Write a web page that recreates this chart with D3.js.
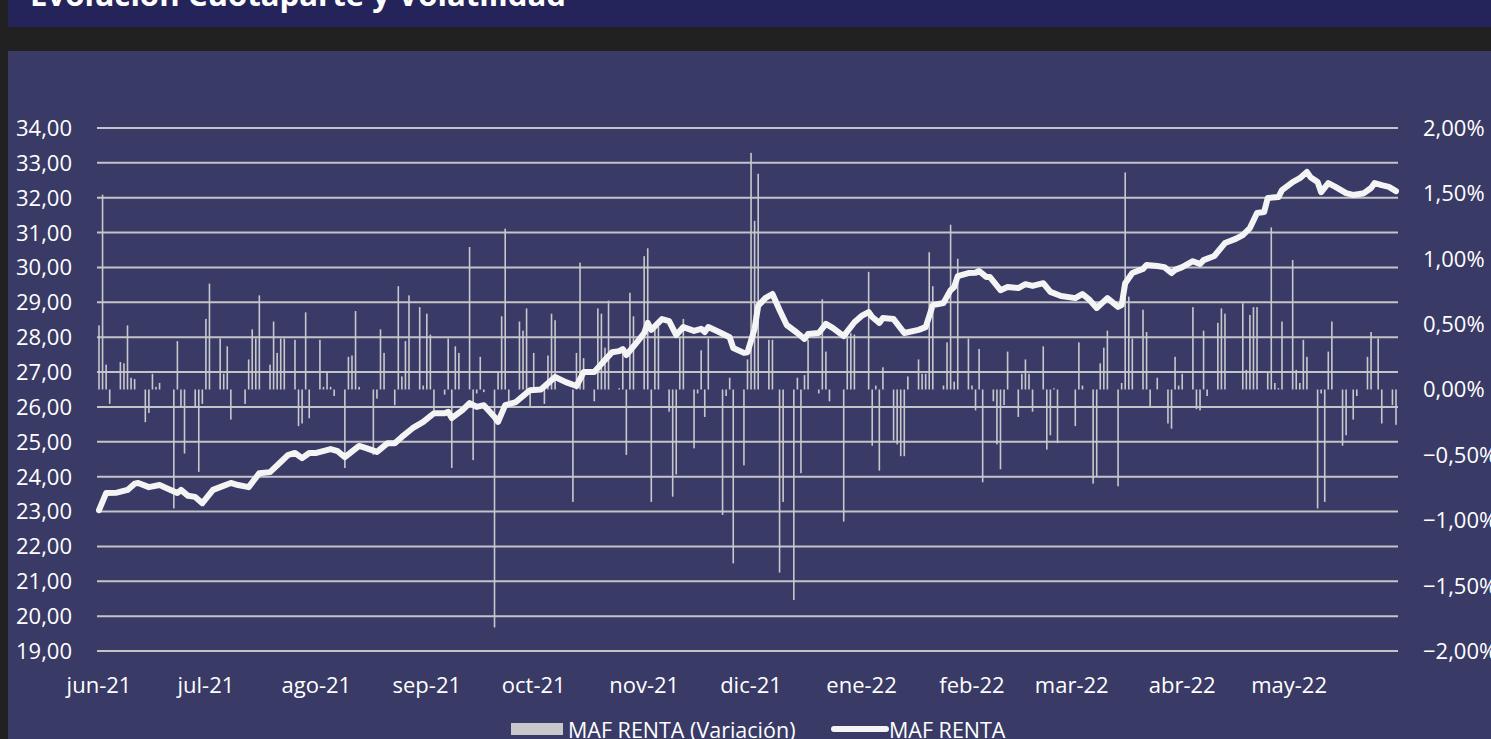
<!DOCTYPE html>
<html>
<head>
<meta charset="utf-8">
<script src="https://cdn.jsdelivr.net/npm/d3@7"></script>
<style>
  html, body { margin: 0; padding: 0; background: #393a66; }
  svg { display: block; }
  text { font-family: "Open Sans", "Liberation Sans", sans-serif; fill: #ffffff; }
</style>
</head>
<body>
<div id="chart"></div>
<script>
"use strict"

// titles / labels
const chartTitle = "Evolución Cuotaparte y Volatilidad";
const monthLabels = ["jun-21", "jul-21", "ago-21", "sep-21", "oct-21", "nov-21",
  "dic-21", "ene-22", "feb-22", "mar-22", "abr-22", "may-22"];
const leftTicks = [19, 20, 21, 22, 23, 24, 25, 26, 27, 28, 29, 30, 31, 32, 33, 34];
const rightTicks = [-2, -1.5, -1, -0.5, 0, 0.5, 1, 1.5, 2];
const seriesNames = ["MAF RENTA (Variación)", "MAF RENTA"];

// days counted from 1 jun 2021
const lineDays = [0, 2, 5, 8, 10, 11, 14, 17, 19, 22, 23, 25, 27, 29, 32, 34, 37, 39, 42, 45,
  48, 51, 53, 55, 57, 59, 61, 65, 67, 69, 73, 75, 78, 81, 83, 85, 88, 91, 94, 97,
  98, 99, 102, 104, 106, 108, 111, 112, 114, 117, 120, 121, 124, 128, 131, 134, 136, 139, 142, 144,
  146, 147, 148, 151, 153, 154, 155, 158, 160, 162, 164, 167, 169, 170, 171, 174, 177, 178, 181, 182,
  183, 184, 185, 187, 189, 191, 193, 196, 198, 199, 202, 204, 206, 209, 212, 214, 216, 217, 219, 220,
  223, 226, 230, 232, 234, 237, 239, 240, 241, 244, 246, 247, 249, 250, 253, 255, 258, 260, 262, 265,
  267, 270, 274, 276, 278, 280, 283, 286, 287, 288, 290, 293, 294, 297, 299, 301, 302, 304, 307, 309,
  310, 313, 316, 319, 321, 323, 325, 327, 328, 331, 332, 335, 337, 339, 340, 342, 343, 345, 347, 350,
  352, 355, 357, 358, 360, 362, 364];
const lineValues = [23.04, 23.53, 23.54, 23.62, 23.80, 23.82, 23.70, 23.76, 23.67, 23.53, 23.62, 23.45, 23.42, 23.24, 23.62, 23.70, 23.82, 23.76, 23.70, 24.10,
  24.13, 24.42, 24.62, 24.68, 24.53, 24.68, 24.68, 24.79, 24.73, 24.56, 24.88, 24.82, 24.71, 24.96, 24.96, 25.14, 25.39, 25.57, 25.82, 25.82,
  25.86, 25.68, 25.91, 26.11, 26.00, 26.05, 25.71, 25.57, 26.05, 26.14, 26.40, 26.48, 26.50, 26.86, 26.71, 26.60, 27.00, 27.00, 27.35, 27.57,
  27.60, 27.66, 27.49, 27.86, 28.12, 28.41, 28.21, 28.52, 28.46, 28.06, 28.29, 28.18, 28.24, 28.15, 28.29, 28.15, 28.00, 27.69, 27.55, 27.57,
  27.90, 28.25, 28.90, 29.12, 29.24, 28.78, 28.35, 28.12, 27.95, 28.09, 28.12, 28.38, 28.26, 28.03, 28.43, 28.61, 28.72, 28.58, 28.41, 28.55,
  28.52, 28.12, 28.21, 28.29, 28.92, 28.98, 29.35, 29.44, 29.75, 29.84, 29.85, 29.90, 29.73, 29.73, 29.35, 29.44, 29.41, 29.52, 29.47, 29.55,
  29.30, 29.18, 29.12, 29.24, 29.07, 28.84, 29.12, 28.87, 28.92, 29.55, 29.84, 29.96, 30.07, 30.04, 30.01, 29.84, 29.93, 30.01, 30.18, 30.10,
  30.21, 30.33, 30.70, 30.82, 30.93, 31.13, 31.56, 31.59, 31.99, 32.02, 32.22, 32.45, 32.56, 32.74, 32.59, 32.45, 32.16, 32.42, 32.31, 32.13,
  32.08, 32.13, 32.28, 32.42, 32.36, 32.31, 32.19];

// daily variation, in %
const barDays = [0, 1, 2, 3, 6, 7, 8, 9, 10, 13, 14, 15, 16, 17, 21, 22, 23, 24, 27, 28,
  29, 30, 31, 34, 35, 36, 37, 41, 42, 43, 44, 45, 48, 49, 50, 51, 52, 55, 56, 57,
  58, 59, 62, 63, 64, 65, 66, 69, 70, 71, 72, 73, 77, 78, 79, 80, 83, 84, 85, 86,
  87, 90, 91, 92, 93, 94, 97, 98, 99, 100, 101, 104, 105, 106, 107, 108, 111, 112, 113, 114,
  115, 118, 119, 120, 121, 122, 125, 126, 127, 128, 133, 134, 135, 136, 139, 140, 141, 142, 143, 146,
  147, 148, 149, 150, 153, 154, 155, 156, 157, 160, 161, 162, 163, 164, 167, 168, 169, 170, 171, 175,
  176, 177, 178, 181, 182, 183, 184, 185, 188, 189, 191, 192, 195, 196, 197, 198, 199, 202, 203, 204,
  205, 209, 210, 211, 212, 216, 217, 218, 219, 220, 223, 224, 225, 226, 227, 230, 231, 232, 233, 234,
  237, 238, 239, 240, 241, 244, 245, 246, 247, 248, 251, 252, 253, 254, 255, 258, 259, 260, 261, 262,
  265, 266, 267, 268, 269, 274, 275, 276, 279, 280, 281, 282, 283, 286, 287, 288, 289, 290, 293, 294,
  295, 297, 300, 301, 302, 303, 304, 307, 308, 309, 310, 311, 314, 315, 316, 321, 322, 323, 324, 325,
  328, 329, 330, 331, 332, 335, 336, 337, 338, 339, 342, 343, 344, 345, 346, 349, 350, 352, 353, 356,
  357, 359, 360, 363, 364];
const barValues = [0.49, 1.49, 0.19, -0.11, 0.21, 0.20, 0.49, 0.09, 0.08, -0.25, -0.18, 0.12, 0.02, 0.05, -0.91, 0.37, -0.13, -0.49, -0.13, -0.63,
  -0.11, 0.54, 0.81, 0.39, 0.12, 0.33, -0.23, -0.11, 0.23, 0.46, 0.39, 0.72, 0.19, 0.52, 0.28, 0.39, 0.39, 0.38, -0.28, -0.26,
  0.59, -0.22, 0.38, 0.02, 0.13, 0.02, -0.05, -0.60, 0.25, 0.26, 0.60, 0.02, -0.50, -0.07, 0.46, 0.28, -0.12, 0.79, 0.10, 0.37,
  0.72, 0.63, 0.03, 0.58, 0.42, -0.16, -0.04, 0.39, -0.60, 0.33, 0.28, 1.09, -0.54, -0.03, 0.25, -0.02, -1.82, 0.13, 0.56, 1.23,
  -0.09, 0.52, 0.45, 0.62, -0.13, 0.28, -0.11, 0.26, 0.58, 0.53, -0.86, 0.28, 0.97, 0.24, -0.09, 0.62, 0.58, 0.32, 0.68, 0.01,
  0.32, -0.50, 0.74, 0.56, 1.02, 1.08, -0.86, 0.48, 0.48, -0.17, -0.82, -0.65, 0.40, 0.54, -0.45, -0.03, 0.30, -0.21, 0.39, -0.96,
  -0.05, 0.09, -1.33, -0.58, 0.23, 1.81, 1.29, 1.65, 0.38, 0.38, -1.40, -0.86, -1.61, 0.09, -0.64, 0.11, 0.38, -0.03, 0.69, 0.29,
  -0.09, -1.01, 0.42, 0.43, 0.42, 0.90, -0.43, 0.03, -0.62, 0.17, -0.39, -0.42, -0.51, -0.51, 0.10, 0.23, 0.12, 0.12, 1.05, 0.79,
  0.03, 0.36, 1.26, 0.06, 1.00, 0.39, 0.03, -0.16, 0.31, -0.71, -0.09, -0.42, -0.61, -0.12, 0.29, -0.21, 0.12, 0.23, 0.12, -0.17,
  0.33, -0.46, -0.35, 0.01, -0.41, -0.28, 0.36, 0.03, -0.72, -0.67, 0.20, 0.32, 0.45, -0.74, 0.05, 1.66, 0.71, 0.39, 0.61, 0.44,
  -0.13, 0.09, -0.26, -0.30, 0.25, 0.03, 0.12, 0.63, -0.15, -0.16, 0.45, -0.05, 0.51, 0.62, 0.58, 0.66, 0.15, 0.57, 0.63, 0.63,
  0.13, 1.24, 0.05, 0.01, 0.52, 0.99, 0.15, 0.05, 0.38, 0.25, -0.91, -0.03, -0.86, 0.29, 0.52, -0.43, -0.35, -0.23, -0.05, 0.25,
  0.44, 0.39, -0.26, -0.12, -0.27];

const width = 1491, height = 739;
const day = d => new Date(Date.UTC(2021, 5, 1 + d));

const svg = d3.select("#chart")
  .append("svg")
    .attr("width", width)
    .attr("height", height);

// page bands
svg.append("rect").attr("width", width).attr("height", height).attr("fill", "#393a66");
svg.append("rect").attr("x", 0).attr("y", 0).attr("width", width).attr("height", 51).attr("fill", "#212121");
svg.append("rect").attr("x", 8).attr("y", 0).attr("width", width - 8).attr("height", 27).attr("fill", "#24245a");
svg.append("rect").attr("x", 0).attr("y", 0).attr("width", 8).attr("height", height).attr("fill", "#212121");

svg.append("text")
  .attr("x", 30).attr("y", 6)
  .attr("textLength", 536).attr("lengthAdjust", "spacingAndGlyphs")
  .style("font-size", "30px").style("font-weight", "bold")
  .text(chartTitle);

// scales
const x = d3.scaleUtc()
  .domain([day(0), day(364)])
  .range([99, 1396]);
const yL = d3.scaleLinear().domain([19, 34]).range([651, 128]);
const yR = d3.scaleLinear().domain([-2, 2]).range([651, 128]);
const gridX0 = 97, gridX1 = 1398;
const fmt = d3.formatLocale({decimal: ",", thousands: ".", grouping: [3], currency: ["", ""]});

// gridlines
svg.append("g")
  .selectAll("line")
  .data(leftTicks)
  .join("line")
    .attr("x1", gridX0).attr("x2", gridX1)
    .attr("y1", d => yL(d)).attr("y2", d => yL(d))
    .attr("stroke", "#c4c4c8").attr("stroke-width", 2);

// left axis labels
svg.append("g")
  .selectAll("text")
  .data(leftTicks)
  .join("text")
    .attr("x", 72).attr("y", d => yL(d))
    .attr("dy", "0.36em")
    .attr("text-anchor", "end")
    .style("font-size", "22px")
    .text(d => fmt.format(".2f")(d));

// right axis labels
svg.append("g")
  .selectAll("text")
  .data(rightTicks)
  .join("text")
    .attr("x", 1423).attr("y", d => yR(d))
    .attr("dy", "0.36em")
    .attr("text-anchor", "start")
    .style("font-size", "22px")
    .text(d => fmt.format(".2f")(d) + "%");

// month labels
const months = d3.utcMonth.range(day(0), day(365));
svg.append("g")
  .selectAll("text")
  .data(months)
  .join("text")
    .attr("x", d => x(d)).attr("y", 693)
    .attr("text-anchor", "middle")
    .style("font-size", "22px")
    .text((d, i) => monthLabels[i]);

// bars (variation)
const bars = barDays.map((d, i) => ({date: day(d), value: barValues[i]}));
svg.append("g")
  .selectAll("rect")
  .data(bars)
  .join("rect")
    .attr("x", d => x(d.date) - 0.8)
    .attr("y", d => Math.min(yR(0), yR(d.value)))
    .attr("width", 1.6)
    .attr("height", d => Math.abs(yR(d.value) - yR(0)))
    .attr("fill", "#c8c8cc");

// quota line
const linePts = lineDays.map((d, i) => ({date: day(d), value: lineValues[i]}));
svg.append("path")
  .datum(linePts)
  .attr("fill", "none")
  .attr("stroke", "#f4f4f4")
  .attr("stroke-width", 6)
  .attr("stroke-linejoin", "round")
  .attr("stroke-linecap", "round")
  .attr("d", d3.line().x(d => x(d.date)).y(d => yL(d.value)));

// legend
const legend = svg.append("g");
legend.append("rect")
  .attr("x", 511).attr("y", 723).attr("width", 52).attr("height", 12)
  .attr("fill", "#c8c8cc");
legend.append("text")
  .attr("x", 568).attr("y", 738)
  .style("font-size", "21.5px")
  .text(seriesNames[0]);
legend.append("line")
  .attr("x1", 834).attr("x2", 886).attr("y1", 729).attr("y2", 729)
  .attr("stroke", "#f4f4f4").attr("stroke-width", 6).attr("stroke-linecap", "round");
legend.append("text")
  .attr("x", 889).attr("y", 738)
  .style("font-size", "21.5px")
  .text(seriesNames[1]);
</script>
</body>
</html>
